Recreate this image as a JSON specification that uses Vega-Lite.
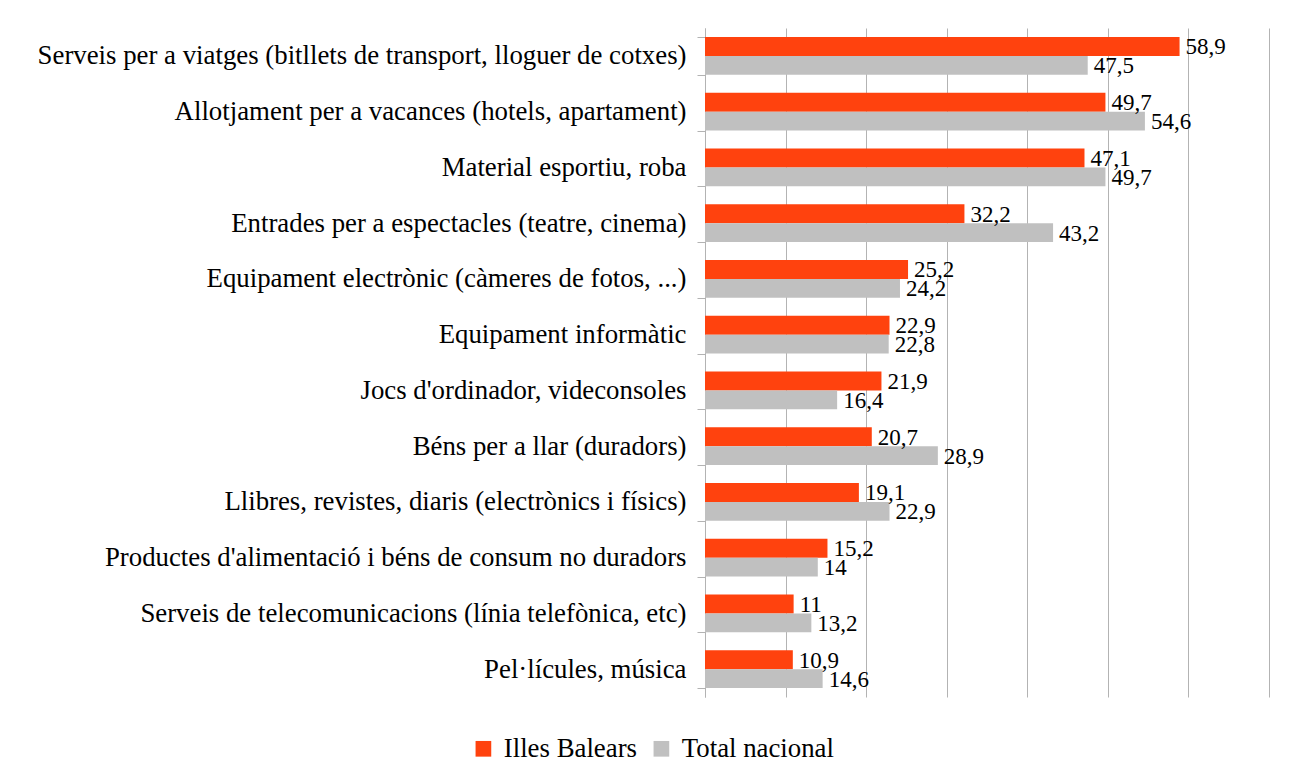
{
  "$schema": "https://vega.github.io/schema/vega-lite/v6.json",
  "width": 564,
  "height": 669,
  "autosize": {"type": "none"},
  "padding": {"left": 705, "top": 28, "right": 27, "bottom": 84},
  "background": "white",
  "config": {
    "view": {"stroke": null},
    "font": "Liberation Serif",
    "locale": {"number": {"decimal": ",", "thousands": ".", "grouping": [3], "currency": ["", " €"]}}
  },
  "data": {
    "values": [
      {"categoria": "Serveis per a viatges (bitllets de transport, lloguer de cotxes)", "serie": "Illes Balears", "valor": 58.9},
      {"categoria": "Serveis per a viatges (bitllets de transport, lloguer de cotxes)", "serie": "Total nacional", "valor": 47.5},
      {"categoria": "Allotjament per a vacances (hotels, apartament)", "serie": "Illes Balears", "valor": 49.7},
      {"categoria": "Allotjament per a vacances (hotels, apartament)", "serie": "Total nacional", "valor": 54.6},
      {"categoria": "Material esportiu, roba", "serie": "Illes Balears", "valor": 47.1},
      {"categoria": "Material esportiu, roba", "serie": "Total nacional", "valor": 49.7},
      {"categoria": "Entrades per a espectacles (teatre, cinema)", "serie": "Illes Balears", "valor": 32.2},
      {"categoria": "Entrades per a espectacles (teatre, cinema)", "serie": "Total nacional", "valor": 43.2},
      {"categoria": "Equipament electrònic (càmeres de fotos, ...)", "serie": "Illes Balears", "valor": 25.2},
      {"categoria": "Equipament electrònic (càmeres de fotos, ...)", "serie": "Total nacional", "valor": 24.2},
      {"categoria": "Equipament informàtic", "serie": "Illes Balears", "valor": 22.9},
      {"categoria": "Equipament informàtic", "serie": "Total nacional", "valor": 22.8},
      {"categoria": "Jocs d'ordinador, videconsoles", "serie": "Illes Balears", "valor": 21.9},
      {"categoria": "Jocs d'ordinador, videconsoles", "serie": "Total nacional", "valor": 16.4},
      {"categoria": "Béns per a llar (duradors)", "serie": "Illes Balears", "valor": 20.7},
      {"categoria": "Béns per a llar (duradors)", "serie": "Total nacional", "valor": 28.9},
      {"categoria": "Llibres, revistes, diaris (electrònics i físics)", "serie": "Illes Balears", "valor": 19.1},
      {"categoria": "Llibres, revistes, diaris (electrònics i físics)", "serie": "Total nacional", "valor": 22.9},
      {"categoria": "Productes d'alimentació i béns de consum no duradors", "serie": "Illes Balears", "valor": 15.2},
      {"categoria": "Productes d'alimentació i béns de consum no duradors", "serie": "Total nacional", "valor": 14},
      {"categoria": "Serveis de telecomunicacions (línia telefònica, etc)", "serie": "Illes Balears", "valor": 11},
      {"categoria": "Serveis de telecomunicacions (línia telefònica, etc)", "serie": "Total nacional", "valor": 13.2},
      {"categoria": "Pel·lícules, música", "serie": "Illes Balears", "valor": 10.9},
      {"categoria": "Pel·lícules, música", "serie": "Total nacional", "valor": 14.6}
    ]
  },
  "encoding": {
    "y": {
      "field": "categoria",
      "type": "nominal",
      "sort": null,
      "scale": {"paddingInner": 0.32, "paddingOuter": 0.16},
      "axis": {
        "title": null,
        "labelFont": "Liberation Serif",
        "labelFontSize": 26.8,
        "labelColor": "#000000",
        "labelLimit": 900,
        "labelPadding": 11,
        "tickSize": 8,
        "tickColor": "#b3b3b3",
        "domainColor": "#b3b3b3",
        "tickBand": "extent",
        "grid": false
      }
    },
    "yOffset": {
      "field": "serie",
      "type": "nominal",
      "sort": ["Illes Balears", "Total nacional"]
    },
    "x": {
      "field": "valor",
      "type": "quantitative",
      "scale": {"domain": [0, 70], "nice": false},
      "axis": {
        "title": null,
        "values": [0, 10, 20, 30, 40, 50, 60, 70],
        "labels": false,
        "ticks": false,
        "domain": false,
        "grid": true,
        "gridColor": "#b3b3b3",
        "gridOpacity": 1
      }
    }
  },
  "layer": [
    {
      "mark": {"type": "bar"},
      "encoding": {
        "color": {
          "field": "serie",
          "type": "nominal",
          "scale": {"domain": ["Illes Balears", "Total nacional"], "range": ["#ff420e", "#c0c0c0"]},
          "legend": {
            "title": null,
            "orient": "none",
            "direction": "horizontal",
            "legendX": -235,
            "legendY": 707,
            "symbolType": "square",
            "symbolSize": 246,
            "symbolStrokeWidth": 0,
            "symbolOpacity": 1,
            "labelFont": "Liberation Serif",
            "labelFontSize": 26.8,
            "labelColor": "#000000",
            "labelOffset": 7,
            "labelLimit": 400,
            "columnPadding": 11
          }
        }
      }
    },
    {
      "mark": {"type": "text", "align": "left", "baseline": "middle", "dx": 6, "dy": 1, "font": "Liberation Serif", "fontSize": 23, "color": "#000000"},
      "encoding": {
        "text": {"field": "valor", "type": "quantitative", "format": ".1~f"}
      }
    }
  ]
}
